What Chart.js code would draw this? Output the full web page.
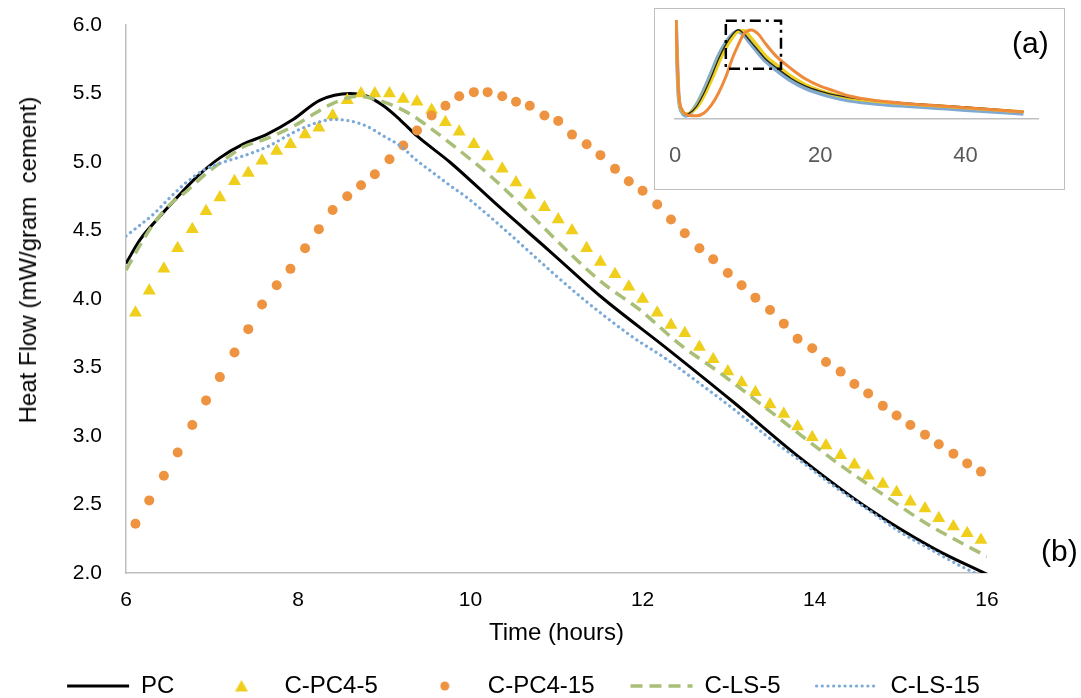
<!DOCTYPE html>
<html>
<head>
<meta charset="utf-8">
<script src="https://cdn.jsdelivr.net/npm/chart.js@4.4.1/dist/chart.umd.min.js"></script>
<style>
  html, body { margin: 0; padding: 0; background: #fff; }
  #wrap { position: relative; width: 1081px; height: 698px; font-family: "Liberation Sans", Arial, sans-serif; }
  #main { position: absolute; left: 0; top: 0; }
  #ytitle { position: absolute; left: 28px; top: 260px; transform: translate(-50%, -50%) rotate(-90deg); white-space: pre; font-size: 24px; line-height: 1; color: #000; }
  #inset { position: absolute; left: 654px; top: 8px; width: 411px; height: 182px; box-sizing: border-box; border: 1px solid #bfbfbf; background: #fff; }
  #insetChart { position: absolute; left: 0; top: 0; }
  .tag { position: absolute; font-size: 30px; line-height: 30px; color: #000; }
</style>
</head>
<body>
<div id="wrap">
  <canvas id="main" width="1081" height="698"></canvas>
  <div id="ytitle">Heat Flow (mW/gram  cement)</div>
  <div id="inset"><canvas id="insetChart" width="409" height="180"></canvas></div>
  <div class="tag" style="left:1012px; top:28px;">(a)</div>
  <div class="tag" style="left:1041px; top:536px;">(b)</div>
</div>
<script>
// main chart (b): 6-16 h
const xTickValues = [6, 8, 10, 12, 14, 16];
const yTickValues = [2.0, 2.5, 3.0, 3.5, 4.0, 4.5, 5.0, 5.5, 6.0];

// marker series share one time base
const markerHours = [6.11, 6.27, 6.44, 6.60, 6.77, 6.93, 7.09, 7.26, 7.42, 7.58,
  7.75, 7.91, 8.08, 8.24, 8.40, 8.57, 8.73, 8.89, 9.06, 9.22,
  9.38, 9.55, 9.71, 9.87, 10.04, 10.20, 10.37, 10.53, 10.69, 10.86,
  11.02, 11.18, 11.35, 11.51, 11.68, 11.84, 12.00, 12.17, 12.33, 12.49,
  12.66, 12.82, 12.99, 13.15, 13.31, 13.48, 13.64, 13.80, 13.97, 14.13,
  14.30, 14.46, 14.62, 14.79, 14.95, 15.11, 15.28, 15.44, 15.61, 15.77, 15.93];
const pc4_5Flow = [3.90, 4.06, 4.22, 4.37, 4.51, 4.64, 4.74, 4.86, 4.92, 5.01,
  5.08, 5.13, 5.20, 5.25, 5.34, 5.45, 5.50, 5.50, 5.50, 5.46,
  5.44, 5.38, 5.29, 5.22, 5.13, 5.04, 4.95, 4.85, 4.76, 4.67,
  4.58, 4.50, 4.37, 4.27, 4.18, 4.09, 4.00, 3.90, 3.81, 3.75,
  3.65, 3.56, 3.47, 3.39, 3.32, 3.23, 3.16, 3.07, 2.99, 2.93,
  2.86, 2.79, 2.71, 2.65, 2.59, 2.52, 2.47, 2.40, 2.34, 2.29, 2.24];
const pc4_15Flow = [2.36, 2.53, 2.71, 2.88, 3.08, 3.26, 3.43, 3.61, 3.78, 3.96,
  4.10, 4.22, 4.37, 4.51, 4.65, 4.75, 4.83, 4.91, 5.02, 5.12,
  5.23, 5.34, 5.41, 5.48, 5.51, 5.51, 5.48, 5.44, 5.41, 5.34,
  5.30, 5.20, 5.13, 5.05, 4.95, 4.86, 4.79, 4.69, 4.58, 4.48,
  4.37, 4.29, 4.19, 4.10, 4.01, 3.92, 3.82, 3.71, 3.64, 3.54,
  3.47, 3.38, 3.31, 3.22, 3.15, 3.08, 3.01, 2.94, 2.87, 2.80, 2.74];

const pcHours = [6.00, 6.16, 6.36, 6.59, 6.82, 7.09, 7.36, 7.63, 7.94, 8.25, 8.60, 8.80, 8.99,
  9.18, 9.38, 9.76, 10.34, 10.92, 11.51, 12.28, 13.05, 13.83, 14.60, 15.38, 16.00];
const pcFlow = [4.26, 4.43, 4.58, 4.74, 4.89, 5.03, 5.13, 5.20, 5.31, 5.45, 5.50, 5.48, 5.41,
  5.31, 5.19, 5.00, 4.67, 4.35, 4.02, 3.64, 3.25, 2.84, 2.48, 2.18, 1.99];

const ls5Hours = [6.00, 6.16, 6.31, 6.51, 6.71, 6.92, 7.13, 7.36, 7.63, 7.94, 8.18, 8.41, 8.69,
  9.03, 9.30, 9.53, 9.76, 10.00, 10.23, 11.51, 11.97, 12.43, 12.90, 13.40, 13.83, 14.29, 14.80,
  15.30, 15.76, 16.00];
const ls5Flow = [4.21, 4.39, 4.54, 4.69, 4.79, 4.91, 5.01, 5.11, 5.17, 5.26, 5.35, 5.43, 5.48,
  5.43, 5.35, 5.25, 5.14, 5.02, 4.90, 4.13, 3.92, 3.67, 3.46, 3.22, 3.01, 2.79, 2.57,
  2.36, 2.20, 2.12];

const ls15Hours = [6.00, 6.32, 6.51, 6.70, 6.90, 7.09, 7.29, 7.48, 7.67, 7.87, 8.06, 8.41, 8.60,
  8.80, 8.99, 9.18, 9.38, 9.57, 9.76, 9.96, 11.31, 11.89, 12.28, 12.67, 13.05, 13.44, 13.83,
  14.21, 14.60, 14.99, 15.38, 15.76, 16.00];
const ls15Flow = [4.46, 4.62, 4.74, 4.85, 4.94, 4.99, 5.03, 5.07, 5.12, 5.19, 5.25, 5.31, 5.30,
  5.26, 5.19, 5.12, 5.01, 4.92, 4.83, 4.74, 4.00, 3.72, 3.56, 3.38, 3.20, 3.00, 2.82,
  2.64, 2.47, 2.30, 2.16, 2.03, 1.96];

// inset chart (a): 0-48 h
const insetTickValues = [0, 20, 40];
const insetHours = [0, 0.5, 1, 1.5, 2, 3, 4, 5, 6, 7, 8, 8.7, 9.5, 10.5, 11.5, 12.5, 14, 16, 18, 20, 22, 24, 28, 32, 36, 40, 44, 48];
const insetPc = [8.0, 1.5, 0.5, 0.3, 0.36, 0.8, 1.6, 2.6, 3.7, 4.6, 5.25, 5.5, 5.25, 4.72, 4.2, 3.68, 3.15, 2.5, 2.03, 1.72, 1.48, 1.32, 1.12, 0.98, 0.86, 0.74, 0.6, 0.46];
const insetPc4_5 = [8.0, 1.45, 0.5, 0.32, 0.36, 0.7, 1.4, 2.35, 3.4, 4.35, 5.05, 5.4, 5.45, 5.0, 4.45, 3.9, 3.35, 2.65, 2.12, 1.76, 1.5, 1.3, 1.08, 0.93, 0.81, 0.69, 0.57, 0.44];
const insetPc4_15 = [8.0, 1.6, 0.55, 0.3, 0.22, 0.2, 0.37, 0.85, 1.6, 2.6, 3.85, 4.55, 5.25, 5.48, 5.22, 4.62, 3.84, 3.1, 2.46, 2.02, 1.72, 1.42, 1.12, 0.94, 0.82, 0.7, 0.57, 0.43];
const insetLs5 = [8.0, 1.45, 0.48, 0.3, 0.36, 0.85, 1.65, 2.65, 3.7, 4.58, 5.2, 5.45, 5.28, 4.78, 4.25, 3.72, 3.2, 2.55, 2.06, 1.72, 1.46, 1.27, 1.06, 0.92, 0.8, 0.68, 0.56, 0.44];
const insetLs15 = [8.0, 1.4, 0.4, 0.2, 0.3, 0.9, 1.8, 2.85, 3.9, 4.7, 5.25, 5.4, 5.15, 4.6, 4.05, 3.55, 3.0, 2.35, 1.88, 1.56, 1.32, 1.14, 0.93, 0.8, 0.68, 0.56, 0.45, 0.32];
// zoom window marked on the inset
const boxHours = [7.0, 14.6, 14.6, 7.0, 7.0];
const boxFlow = [6.05, 6.05, 3.1, 3.1, 6.05];

const FONT = "'Liberation Sans', Arial, sans-serif";
Chart.defaults.font.family = FONT;
Chart.defaults.color = '#000';

const pairs = (xs, ys) => xs.map((x, i) => ({ x: x, y: ys[i] }));

// legend icons for the two marker series
function makeIcon(w, h, draw) {
  const c = document.createElement('canvas');
  c.width = w; c.height = h;
  draw(c.getContext('2d'));
  return c;
}
const triIcon = makeIcon(14, 12, g => {
  g.fillStyle = '#EFCF1B';
  g.beginPath(); g.moveTo(7, 0); g.lineTo(13.5, 11.5); g.lineTo(0.5, 11.5); g.closePath(); g.fill();
});
const dotIcon = makeIcon(10, 10, g => {
  g.fillStyle = '#EE9340';
  g.beginPath(); g.arc(5, 5, 4.5, 0, Math.PI * 2); g.fill();
});

// tick padding should move the labels only, not shrink the plot
const noEdgePadding = s => {
  s.paddingTop = 0; s.paddingBottom = 0; s.paddingLeft = 0; s.paddingRight = 0;
};

const mainDatasets = [
  {
    label: 'PC', data: pairs(pcHours, pcFlow),
    borderColor: '#000', borderWidth: 3, pointRadius: 0,
    cubicInterpolationMode: 'monotone', order: 5,
    legend: { pointStyle: 'line', strokeStyle: '#000', lineWidth: 3, lineDash: [] }
  },
  {
    label: 'C-PC4-5', data: pairs(markerHours, pc4_5Flow),
    showLine: false, pointStyle: 'triangle', pointRadius: 7.5,
    backgroundColor: '#EFCF1B', borderWidth: 0, order: 4,
    legend: { pointStyle: triIcon, lineWidth: 0 }
  },
  {
    label: 'C-PC4-15', data: pairs(markerHours, pc4_15Flow),
    showLine: false, pointStyle: 'circle', pointRadius: 5,
    backgroundColor: '#EE9340', borderWidth: 0, order: 3,
    legend: { pointStyle: dotIcon, lineWidth: 0 }
  },
  {
    label: 'C-LS-5', data: pairs(ls5Hours, ls5Flow),
    borderColor: '#A9BE76', borderWidth: 3.5, borderDash: [12, 7], pointRadius: 0,
    cubicInterpolationMode: 'monotone', order: 2,
    legend: { pointStyle: 'line', strokeStyle: '#A9BE76', lineWidth: 3.5, lineDash: [12, 7] }
  },
  {
    label: 'C-LS-15', data: pairs(ls15Hours, ls15Flow),
    borderColor: '#7CAAD8', borderWidth: 3.2, borderDash: [0.1, 5.6], borderCapStyle: 'round',
    pointRadius: 0, cubicInterpolationMode: 'monotone', order: 1,
    legend: { pointStyle: 'line', strokeStyle: '#7CAAD8', lineWidth: 3.2, lineDash: [0.1, 5.6], lineCap: 'round' }
  }
];

new Chart(document.getElementById('main'), {
  type: 'line',
  data: { datasets: mainDatasets },
  options: {
    responsive: false,
    animation: false,
    events: [],
    layout: { padding: { left: 0, right: 34, top: 25, bottom: 0 } },
    plugins: {
      tooltip: { enabled: false },
      legend: {
        position: 'bottom',
        maxHeight: 60,
        labels: {
          usePointStyle: true,
          pointStyleWidth: 62,
          boxHeight: 10,
          padding: 36,
          color: '#000',
          font: { size: 24 },
          sort: (a, b) => a.datasetIndex - b.datasetIndex,
          generateLabels: chart => chart.data.datasets.map((ds, i) => Object.assign({
            text: ds.label, datasetIndex: i, hidden: false, fontColor: '#000'
          }, ds.legend))
        }
      }
    },
    scales: {
      x: {
        type: 'linear', min: 6, max: 16,
        afterBuildTicks: s => { s.ticks = xTickValues.map(v => ({ value: v })); },
        afterFit: s => { s.height = 65; noEdgePadding(s); },
        grid: { display: false, drawTicks: false },
        border: { display: true, color: '#bfbfbf', width: 1.5 },
        ticks: { padding: 15, font: { size: 21 }, color: '#000' },
        title: { display: true, text: 'Time (hours)', font: { size: 24 }, color: '#000', padding: { top: 0, bottom: -10 } }
      },
      y: {
        type: 'linear', min: 2, max: 6,
        afterBuildTicks: s => { s.ticks = yTickValues.map(v => ({ value: v })); },
        afterFit: s => { s.width = 126; noEdgePadding(s); },
        grid: { display: false, drawTicks: false },
        border: { display: true, color: '#bfbfbf', width: 1.5 },
        ticks: { padding: 24, font: { size: 21 }, color: '#000', callback: v => Number(v).toFixed(1) }
      },
      // empty right-hand margin, keeps the legend wide
      yRight: {
        type: 'linear', position: 'right', min: 2, max: 6,
        afterFit: s => { s.width = 60; noEdgePadding(s); },
        grid: { display: false, drawTicks: false },
        border: { display: false },
        ticks: { display: false }
      }
    }
  }
});

const insetLine = (label, ys, color, width, order) => ({
  label: label, data: pairs(insetHours, ys), borderColor: color, borderWidth: width,
  pointRadius: 0, cubicInterpolationMode: 'monotone', order: order
});

new Chart(document.getElementById('insetChart'), {
  type: 'line',
  data: {
    datasets: [
      { label: 'window', data: pairs(boxHours, boxFlow), borderColor: '#000', borderWidth: 2.5,
        borderDash: [11, 5, 3, 5], pointRadius: 0, tension: 0, clip: false, order: 0 },
      insetLine('C-PC4-15', insetPc4_15, '#EE8A3A', 3, 1),
      insetLine('PC', insetPc, '#222', 1.3, 2),
      insetLine('C-PC4-5', insetPc4_5, '#EFCF1B', 3, 3),
      insetLine('C-LS-5', insetLs5, '#A9BE76', 3, 4),
      insetLine('C-LS-15', insetLs15, '#7FA9D3', 4, 5)
    ]
  },
  options: {
    responsive: false,
    animation: false,
    events: [],
    layout: { padding: { left: 20, right: 26, top: 11, bottom: 0 } },
    plugins: { legend: { display: false }, tooltip: { enabled: false } },
    scales: {
      x: {
        type: 'linear', min: 0, max: 50,
        afterBuildTicks: s => { s.ticks = insetTickValues.map(v => ({ value: v })); },
        afterFit: s => { s.height = 70; noEdgePadding(s); },
        grid: { display: false, drawTicks: false },
        border: { display: true, color: '#bfbfbf', width: 1.5 },
        ticks: { padding: 24, font: { size: 22 }, color: '#595959' }
      },
      y: { display: false, min: 0, max: 6.1 }
    }
  }
});
</script>
</body>
</html>
